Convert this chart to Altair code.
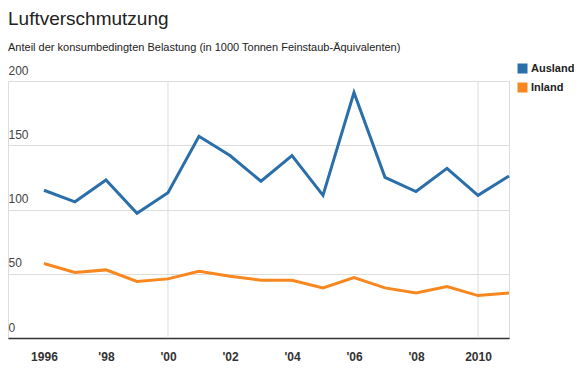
import altair as alt
import pandas as pd

years = list(range(1996, 2012))
ausland = [115, 106, 123, 97, 113, 157, 142, 122, 142, 111, 191, 125, 114, 132, 111, 126]
inland = [58, 51, 53, 44, 46, 52, 48, 45, 45, 39, 47, 39, 35, 40, 33, 35]
series = ["Ausland", "Inland"]
colors = ["#2a6eaa", "#f7871e"]
y_ticks = [0, 50, 100, 150, 200]
x_label_years = [1996, 1998, 2000, 2002, 2004, 2006, 2008, 2010]
x_grid_years = [2000, 2010]

rows = []
for y, a, i in zip(years, ausland, inland):
    rows.append({"Jahr": y, "Herkunft": "Ausland", "Wert": a})
    rows.append({"Jahr": y, "Herkunft": "Inland", "Wert": i})
df = pd.DataFrame(rows)
grid_df = pd.DataFrame({"Jahr": x_grid_years})

FONT = "Liberation Sans"

x_scale = alt.Scale(domain=[1994.84, 2011], nice=False, zero=False)
y_scale = alt.Scale(domain=[0, 200], nice=False)

rules = alt.Chart(grid_df).mark_rule(color="#dddddd", strokeWidth=1).encode(
    x=alt.X("Jahr:Q", scale=x_scale),
    y=alt.datum(0),
    y2=alt.datum(200),
)

lines = alt.Chart(df).mark_line(strokeWidth=3).encode(
    x=alt.X(
        "Jahr:Q",
        scale=x_scale,
        axis=alt.Axis(
            title=None,
            values=x_label_years,
            format="d",
            labelExpr="(datum.value == 1996 || datum.value == 2010) ? datum.label : \"'\" + substring(datum.label, 2)",
            grid=False,
            ticks=False,
            domain=True,
            domainColor="#333333",
            domainWidth=1.5,
            labelFont=FONT,
            labelFontSize=12,
            labelFontWeight="bold",
            labelColor="#333333",
            labelPadding=13,
        ),
    ),
    y=alt.Y(
        "Wert:Q",
        scale=y_scale,
        axis=alt.Axis(
            title=None,
            values=y_ticks,
            grid=True,
            gridColor="#dddddd",
            gridWidth=1,
            ticks=False,
            domain=False,
            labelAlign="left",
            labelBaseline="bottom",
            labelPadding=0,
            labelOffset=-4,
            labelFont=FONT,
            labelFontSize=12,
            labelColor="#444444",
        ),
    ),
    color=alt.Color(
        "Herkunft:N",
        scale=alt.Scale(domain=series, range=colors),
        legend=alt.Legend(
            title=None,
            orient="none",
            legendX=509,
            legendY=-18,
            symbolType="square",
            symbolSize=25,
            symbolStrokeWidth=5,
            labelFont=FONT,
            labelFontSize=11,
            labelFontWeight="bold",
            labelColor="#222222",
            rowPadding=-6,
            labelOffset=3,
        ),
    ),
)

chart = (
    alt.layer(rules, lines)
    .properties(
        width=501,
        height=257,
        autosize=alt.AutoSizeParams(type="none"),
        padding={"left": 0, "top": 73, "right": 65, "bottom": 30},
        title=alt.TitleParams(
            text="Luftverschmutzung",
            subtitle="Anteil der konsumbedingten Belastung (in 1000 Tonnen Feinstaub-Äquivalenten)",
            anchor="start",
            frame="group",
            font=FONT,
            fontSize=19,
            fontWeight="normal",
            color="#222222",
            subtitleFont=FONT,
            subtitleFontSize=11,
            subtitleColor="#222222",
            subtitlePadding=13,
            offset=10,
        ),
    )
    .configure_view(stroke=None)
    .configure(background="white")
)

chart.save("out.html", embed_options={"renderer": "svg", "actions": False})
